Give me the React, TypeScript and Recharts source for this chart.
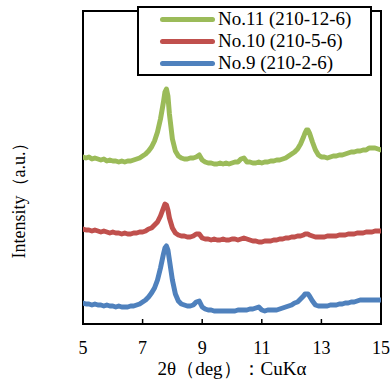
import React from "react";
import { LineChart, Line, XAxis, YAxis, ReferenceArea, Legend } from "recharts";

const twoTheta = [
  5.0, 5.1, 5.2, 5.3, 5.4, 5.5, 5.6, 5.7, 5.8, 5.9,
  6.0, 6.1, 6.2, 6.3, 6.4, 6.5, 6.6, 6.7, 6.8, 6.9,
  7.0, 7.1, 7.2, 7.3, 7.4, 7.5, 7.6, 7.7, 7.75, 7.8, 7.85, 7.9,
  8.0, 8.1, 8.2, 8.3, 8.4, 8.5, 8.6, 8.7, 8.8, 8.9,
  9.0, 9.1, 9.2, 9.3, 9.4, 9.5, 9.6, 9.7, 9.8, 9.9,
  10.0, 10.1, 10.2, 10.3, 10.4, 10.5, 10.6, 10.7, 10.8, 10.9,
  11.0, 11.1, 11.2, 11.3, 11.4, 11.5, 11.6, 11.7, 11.8, 11.9,
  12.0, 12.1, 12.2, 12.3, 12.4, 12.45, 12.5, 12.55, 12.6, 12.7, 12.8, 12.9,
  13.0, 13.1, 13.2, 13.3, 13.4, 13.5, 13.6, 13.7, 13.8, 13.9,
  14.0, 14.1, 14.2, 14.3, 14.4, 14.5, 14.6, 14.7, 14.8, 14.9, 15.0,
];

const no11 = [
  167, 166, 167, 165, 166, 165, 164, 165, 163, 164,
  163, 163, 162, 163, 162, 163, 163, 164, 165, 166,
  168, 170, 173, 177, 183, 192, 205, 222, 232, 235, 228, 210,
  185, 173, 168, 166, 165, 165, 166, 166, 167, 169,
  164, 162, 161, 161, 160, 160, 161, 160, 161, 160,
  161, 162, 162, 165, 166, 162, 162, 161, 161, 162,
  161, 162, 162, 163, 163, 164, 164, 165, 166, 168,
  170, 172, 175, 180, 187, 191, 194, 194, 191, 182, 174, 169,
  167, 167, 166, 167, 168, 168, 169, 169, 170, 171,
  172, 172, 173, 173, 174, 174, 176, 176, 176, 175, 174,
];

const no10 = [
  95, 94, 94, 93, 94, 93, 92, 93, 92, 91,
  92, 91, 91, 90, 91, 90, 90, 91, 91, 92,
  92, 93, 95, 96, 99, 102, 108, 116, 120, 119, 114, 106,
  96, 91, 89, 88, 88, 87, 87, 88, 90, 90,
  86, 85, 85, 84, 85, 84, 84, 85, 84, 84,
  85, 85, 84, 85, 86, 85, 84, 83, 83, 82,
  82, 83, 83, 83, 84, 84, 85, 85, 86, 86,
  87, 87, 88, 88, 89, 90, 90, 90, 89, 88, 87, 87,
  87, 87, 88, 88, 88, 88, 89, 89, 89, 90,
  90, 90, 91, 91, 91, 92, 92, 92, 93, 93, 93,
];

const no9 = [
  21, 20, 20, 19, 20, 19, 19, 18, 19, 18,
  18, 17, 18, 17, 17, 17, 18, 18, 19, 20,
  22, 24, 27, 31, 36, 44, 56, 70, 76, 78, 74, 64,
  44, 30, 23, 20, 19, 18, 18, 19, 22, 23,
  17, 15, 14, 14, 13, 13, 13, 13, 13, 13,
  13, 13, 14, 14, 14, 14, 15, 15, 16, 17,
  14, 13, 14, 14, 14, 14, 15, 16, 17, 18,
  19, 21, 22, 25, 28, 30, 30, 30, 28, 23, 19, 18,
  18, 18, 18, 19, 19, 19, 20, 20, 21, 21,
  22, 22, 23, 24, 24, 24, 24, 24, 24, 24, 24,
];

const xTicks = [5, 7, 9, 11, 13, 15];

const seriesNames = ["No.11 (210-12-6)", "No.10 (210-5-6)", "No.9 (210-2-6)"];
const seriesColors = ["#9BBB59", "#C0504D", "#4F81BD"];
const seriesKeys = ["no11", "no10", "no9"];

const data = twoTheta.map((x, i) => ({ x, no11: no11[i], no10: no10[i], no9: no9[i] }));

const FONT = "'Liberation Serif', 'Times New Roman', serif";
const FS = 18;
const FS_BIG = 19;

const LegendBox = () => (
  <div
    style={{
      width: 231,
      height: 66,
      border: "2px solid #000",
      background: "#fff",
      fontFamily: FONT,
      fontSize: FS_BIG,
      color: "#000",
    }}
  >
    {seriesNames.map((name, i) => (
      <div key={name} style={{ height: 22, display: "flex", alignItems: "center" }}>
        <div
          style={{
            marginLeft: 21,
            width: 55,
            height: 5,
            borderRadius: 3,
            background: seriesColors[i],
          }}
        />
        <span style={{ marginLeft: 3, lineHeight: "22px", whiteSpace: "nowrap" }}>{name}</span>
      </div>
    ))}
  </div>
);

export default function App() {
  return (
    <div style={{ position: "absolute", left: 0, top: 0, width: 390, height: 383, background: "#fff" }}>
      <LineChart
        width={390}
        height={383}
        data={data}
        margin={{ top: 11, right: 9, bottom: 0, left: 0 }}
      >
        <XAxis
          dataKey="x"
          type="number"
          domain={[5, 15]}
          ticks={xTicks}
          allowDataOverflow
          height={59}
          stroke="#000"
          axisLine={{ stroke: "#000", strokeWidth: 2 }}
          tickLine={{ stroke: "#000", strokeWidth: 1.5 }}
          tickSize={-5}
          tickMargin={22}
          tick={{ fill: "#000", fontSize: FS, fontFamily: FONT }}
          label={{
            value: "2θ（deg）：CuKα",
            position: "insideBottom",
            offset: 8,
            fill: "#000",
            fontSize: FS_BIG,
            fontFamily: FONT,
          }}
        />
        <YAxis
          type="number"
          domain={[0, 313]}
          allowDataOverflow
          width={83}
          tick={false}
          tickLine={false}
          axisLine={false}
          label={{
            content: () => (
              <text
                x={25}
                y={196}
                transform="rotate(-90 25 196)"
                textAnchor="middle"
                fill="#000"
                fontSize={FS}
                fontFamily={FONT}
              >
                Intensity（a.u.）
              </text>
            ),
          }}
        />
        <ReferenceArea
          x1={5}
          x2={15}
          y1={0}
          y2={313}
          fill="none"
          stroke="#000"
          strokeWidth={2}
          ifOverflow="visible"
        />
        {seriesKeys.map((k, i) => (
          <Line
            key={k}
            dataKey={k}
            name={seriesNames[i]}
            type="linear"
            stroke={seriesColors[i]}
            strokeWidth={5}
            strokeLinejoin="round"
            strokeLinecap="round"
            dot={false}
            activeDot={false}
            isAnimationActive={false}
          />
        ))}
        <Legend
          layout="vertical"
          align="center"
          verticalAlign="middle"
          wrapperStyle={{ position: "absolute", left: 137, top: 6, width: 235, height: 70 }}
          content={() => <LegendBox />}
        />
      </LineChart>
    </div>
  );
}
